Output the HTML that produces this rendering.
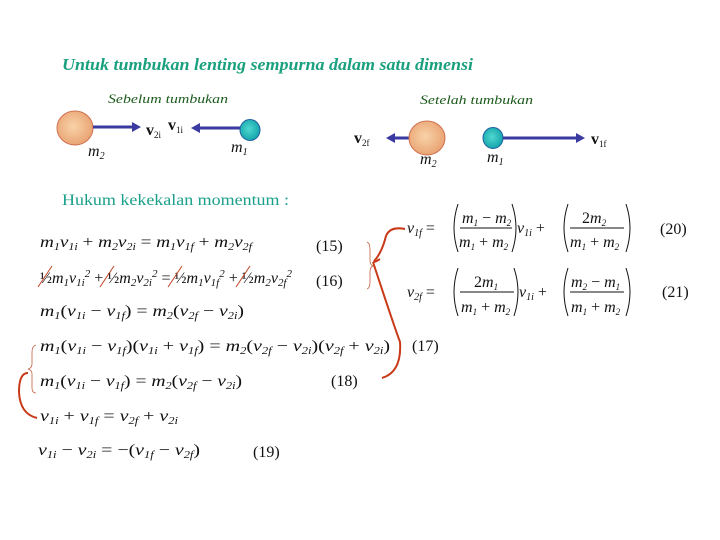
<!DOCTYPE html>
<html><head><meta charset="utf-8"><style>
html,body{margin:0;padding:0;background:#fff;width:720px;height:540px;overflow:hidden}
svg{display:block}
.eq{font-family:"Liberation Serif",serif;font-style:italic;font-size:16px;fill:#111}
.n{font-family:"Liberation Serif",serif;font-size:16px;fill:#111}
</style></head><body>
<svg width="720" height="540" viewBox="0 0 720 540" xmlns="http://www.w3.org/2000/svg">
<defs>
<radialGradient id="g1" cx="0.45" cy="0.45" r="0.6"><stop offset="0" stop-color="#f8d3a8"/><stop offset="1" stop-color="#e8a070"/></radialGradient>
<radialGradient id="g2" cx="0.45" cy="0.45" r="0.6"><stop offset="0" stop-color="#4fd8d0"/><stop offset="1" stop-color="#10a0a8"/></radialGradient>
</defs>
<text x="62" y="70" style="font-family:'Liberation Serif',serif;font-style:italic;font-weight:bold;font-size:17px;fill:#1aa07e" textLength="411" lengthAdjust="spacingAndGlyphs">Untuk tumbukan lenting sempurna dalam satu dimensi</text>
<text x="108" y="103" font-family="Liberation Serif,serif" font-style="italic" font-size="13" fill="#1c5a1c" textLength="120" lengthAdjust="spacingAndGlyphs">Sebelum tumbukan</text>
<text x="420" y="104" font-family="Liberation Serif,serif" font-style="italic" font-size="13" fill="#1c5a1c" textLength="113" lengthAdjust="spacingAndGlyphs">Setelah tumbukan</text>

<ellipse cx="75" cy="128" rx="18" ry="17" fill="url(#g1)" stroke="#d07050"/>
<line x1="93" y1="127" x2="134" y2="127" stroke="#3a3aa0" stroke-width="3"/>
<polygon points="132,122 141,127 132,132" fill="#3a3aa0"/>
<text x="146" y="135" class="n" font-size="13" font-weight="bold">v<tspan font-size="9" dy="3" font-weight="normal">2i</tspan></text>
<text x="168" y="130" class="n" font-size="13" font-weight="bold">v<tspan font-size="9" dy="3" font-weight="normal">1i</tspan></text>
<line x1="240" y1="128" x2="198" y2="128" stroke="#3a3aa0" stroke-width="3"/>
<polygon points="200,123 191,128 200,133" fill="#3a3aa0"/>
<ellipse cx="250" cy="130" rx="10" ry="10.5" fill="url(#g2)" stroke="#2060a0"/>
<text x="88" y="156" class="eq" font-size="14">m<tspan font-size="10" dy="3">2</tspan></text>
<text x="231" y="152" class="eq" font-size="14">m<tspan font-size="10" dy="3">1</tspan></text>

<text x="354" y="143" class="n" font-size="13" font-weight="bold">v<tspan font-size="9" dy="3" font-weight="normal">2f</tspan></text>
<line x1="409" y1="138" x2="393" y2="138" stroke="#3a3aa0" stroke-width="3"/>
<polygon points="395,133 386,138 395,143" fill="#3a3aa0"/>
<ellipse cx="427" cy="138" rx="18" ry="17" fill="url(#g1)" stroke="#d07050"/>
<ellipse cx="493" cy="138" rx="10" ry="10.5" fill="url(#g2)" stroke="#2060a0"/>
<line x1="503" y1="138" x2="578" y2="138" stroke="#3a3aa0" stroke-width="3"/>
<polygon points="576,133 585,138 576,143" fill="#3a3aa0"/>
<text x="591" y="144" class="n" font-size="13" font-weight="bold">v<tspan font-size="9" dy="3" font-weight="normal">1f</tspan></text>
<text x="420" y="164" class="eq" font-size="14">m<tspan font-size="10" dy="3">2</tspan></text>
<text x="487" y="162" class="eq" font-size="14">m<tspan font-size="10" dy="3">1</tspan></text>

<text x="62" y="205" font-family="Liberation Serif,serif" font-size="16" fill="#1aa08a" textLength="227" lengthAdjust="spacingAndGlyphs">Hukum kekekalan momentum :</text>

<text x="40" y="247" class="eq" textLength="212" lengthAdjust="spacingAndGlyphs">m<tspan font-size="10" dy="3">1</tspan><tspan dy="-3">v</tspan><tspan font-size="10" dy="3">1i</tspan><tspan dy="-3" font-style="normal"> + </tspan>m<tspan font-size="10" dy="3">2</tspan><tspan dy="-3">v</tspan><tspan font-size="10" dy="3">2i</tspan><tspan dy="-3" font-style="normal"> = </tspan>m<tspan font-size="10" dy="3">1</tspan><tspan dy="-3">v</tspan><tspan font-size="10" dy="3">1f</tspan><tspan dy="-3" font-style="normal"> + </tspan>m<tspan font-size="10" dy="3">2</tspan><tspan dy="-3">v</tspan><tspan font-size="10" dy="3">2f</tspan></text>
<text x="40" y="283" class="eq" font-size="18" textLength="252" lengthAdjust="spacingAndGlyphs"><tspan font-style="normal">½</tspan>m<tspan font-size="11" dy="3">1</tspan><tspan dy="-3">v</tspan><tspan font-size="11" dy="3">1i</tspan><tspan dy="-9" font-size="11">2</tspan><tspan dy="6" font-style="normal"> + ½</tspan>m<tspan font-size="11" dy="3">2</tspan><tspan dy="-3">v</tspan><tspan font-size="11" dy="3">2i</tspan><tspan font-size="11" dy="-9">2</tspan><tspan font-style="normal" dy="6"> = ½</tspan>m<tspan font-size="11" dy="3">1</tspan><tspan dy="-3">v</tspan><tspan font-size="11" dy="3">1f</tspan><tspan font-size="11" dy="-9">2</tspan><tspan font-style="normal" dy="6"> + ½</tspan>m<tspan font-size="11" dy="3">2</tspan><tspan dy="-3">v</tspan><tspan font-size="11" dy="3">2f</tspan><tspan font-size="11" dy="-9">2</tspan></text>
<g stroke="#c04020" stroke-width="1"><line x1="38" y1="287" x2="52" y2="266"/><line x1="100" y1="287" x2="114" y2="266"/><line x1="168" y1="287" x2="182" y2="266"/><line x1="236" y1="287" x2="250" y2="266"/></g>
<text x="40" y="316" class="eq" textLength="204" lengthAdjust="spacingAndGlyphs">m<tspan font-size="10" dy="3">1</tspan><tspan dy="-3" font-style="normal">(</tspan>v<tspan font-size="10" dy="3">1i</tspan><tspan font-style="normal" dy="-3"> − </tspan>v<tspan font-size="10" dy="3">1f</tspan><tspan font-style="normal" dy="-3">) = </tspan>m<tspan font-size="10" dy="3">2</tspan><tspan dy="-3" font-style="normal">(</tspan>v<tspan font-size="10" dy="3">2f</tspan><tspan font-style="normal" dy="-3"> − </tspan>v<tspan font-size="10" dy="3">2i</tspan><tspan font-style="normal" dy="-3">)</tspan></text>
<text x="40" y="351" class="eq" textLength="350" lengthAdjust="spacingAndGlyphs">m<tspan font-size="10" dy="3">1</tspan><tspan dy="-3" font-style="normal">(</tspan>v<tspan font-size="10" dy="3">1i</tspan><tspan font-style="normal" dy="-3"> − </tspan>v<tspan font-size="10" dy="3">1f</tspan><tspan font-style="normal" dy="-3">)(</tspan>v<tspan font-size="10" dy="3">1i</tspan><tspan font-style="normal" dy="-3"> + </tspan>v<tspan font-size="10" dy="3">1f</tspan><tspan font-style="normal" dy="-3">) = </tspan>m<tspan font-size="10" dy="3">2</tspan><tspan dy="-3" font-style="normal">(</tspan>v<tspan font-size="10" dy="3">2f</tspan><tspan font-style="normal" dy="-3"> − </tspan>v<tspan font-size="10" dy="3">2i</tspan><tspan font-style="normal" dy="-3">)(</tspan>v<tspan font-size="10" dy="3">2f</tspan><tspan font-style="normal" dy="-3"> + </tspan>v<tspan font-size="10" dy="3">2i</tspan><tspan font-style="normal" dy="-3">)</tspan></text>
<text x="40" y="386" class="eq" textLength="202" lengthAdjust="spacingAndGlyphs">m<tspan font-size="10" dy="3">1</tspan><tspan dy="-3" font-style="normal">(</tspan>v<tspan font-size="10" dy="3">1i</tspan><tspan font-style="normal" dy="-3"> − </tspan>v<tspan font-size="10" dy="3">1f</tspan><tspan font-style="normal" dy="-3">) = </tspan>m<tspan font-size="10" dy="3">2</tspan><tspan dy="-3" font-style="normal">(</tspan>v<tspan font-size="10" dy="3">2f</tspan><tspan font-style="normal" dy="-3"> − </tspan>v<tspan font-size="10" dy="3">2i</tspan><tspan font-style="normal" dy="-3">)</tspan></text>
<text x="40" y="421" class="eq" textLength="138" lengthAdjust="spacingAndGlyphs">v<tspan font-size="10" dy="3">1i</tspan><tspan font-style="normal" dy="-3"> + </tspan>v<tspan font-size="10" dy="3">1f</tspan><tspan font-style="normal" dy="-3"> = </tspan>v<tspan font-size="10" dy="3">2f</tspan><tspan font-style="normal" dy="-3"> + </tspan>v<tspan font-size="10" dy="3">2i</tspan></text>
<text x="38" y="455" class="eq" textLength="162" lengthAdjust="spacingAndGlyphs">v<tspan font-size="10" dy="3">1i</tspan><tspan font-style="normal" dy="-3"> − </tspan>v<tspan font-size="10" dy="3">2i</tspan><tspan font-style="normal" dy="-3"> = −(</tspan>v<tspan font-size="10" dy="3">1f</tspan><tspan font-style="normal" dy="-3"> − </tspan>v<tspan font-size="10" dy="3">2f</tspan><tspan font-style="normal" dy="-3">)</tspan></text>

<text x="316" y="251" class="n">(15)</text>
<text x="316" y="286" class="n">(16)</text>
<text x="412" y="351" class="n">(17)</text>
<text x="331" y="386" class="n">(18)</text>
<text x="253" y="457" class="n">(19)</text>
<text x="660" y="234" class="n">(20)</text>
<text x="662" y="297" class="n">(21)</text>

<text x="407" y="233" class="eq">v<tspan font-size="10" dy="3">1f</tspan><tspan font-style="normal" dy="-3"> =</tspan></text>
<path d="M458 204 Q450 228 458 252 M512 204 Q520 228 512 252" stroke="#111" fill="none"/>
<text x="462" y="223" class="eq" font-size="14">m<tspan font-size="9" dy="3">1</tspan><tspan dy="-3" font-style="normal"> − </tspan>m<tspan font-size="9" dy="3">2</tspan></text>
<line x1="460" y1="228" x2="512" y2="228" stroke="#111"/>
<text x="459" y="247" class="eq" font-size="14">m<tspan font-size="9" dy="3">1</tspan><tspan dy="-3" font-style="normal"> + </tspan>m<tspan font-size="9" dy="3">2</tspan></text>
<text x="517" y="233" class="eq">v<tspan font-size="10" dy="3">1i</tspan><tspan font-style="normal" dy="-3"> +</tspan></text>
<path d="M568 204 Q560 228 568 252 M626 204 Q634 228 626 252" stroke="#111" fill="none"/>
<text x="582" y="223" class="eq" font-size="14"><tspan font-style="normal">2</tspan>m<tspan font-size="9" dy="3">2</tspan></text>
<line x1="570" y1="228" x2="624" y2="228" stroke="#111"/>
<text x="570" y="247" class="eq" font-size="14">m<tspan font-size="9" dy="3">1</tspan><tspan dy="-3" font-style="normal"> + </tspan>m<tspan font-size="9" dy="3">2</tspan></text>

<text x="407" y="297" class="eq">v<tspan font-size="10" dy="3">2f</tspan><tspan font-style="normal" dy="-3"> =</tspan></text>
<path d="M458 268 Q450 292 458 316 M514 268 Q522 292 514 316" stroke="#111" fill="none"/>
<text x="474" y="287" class="eq" font-size="14"><tspan font-style="normal">2</tspan>m<tspan font-size="9" dy="3">1</tspan></text>
<line x1="460" y1="292" x2="514" y2="292" stroke="#111"/>
<text x="461" y="312" class="eq" font-size="14">m<tspan font-size="9" dy="3">1</tspan><tspan dy="-3" font-style="normal"> + </tspan>m<tspan font-size="9" dy="3">2</tspan></text>
<text x="519" y="297" class="eq">v<tspan font-size="10" dy="3">1i</tspan><tspan font-style="normal" dy="-3"> +</tspan></text>
<path d="M568 268 Q560 292 568 316 M626 268 Q634 292 626 316" stroke="#111" fill="none"/>
<text x="571" y="287" class="eq" font-size="14">m<tspan font-size="9" dy="3">2</tspan><tspan dy="-3" font-style="normal"> − </tspan>m<tspan font-size="9" dy="3">1</tspan></text>
<line x1="570" y1="292" x2="624" y2="292" stroke="#111"/>
<text x="571" y="312" class="eq" font-size="14">m<tspan font-size="9" dy="3">1</tspan><tspan dy="-3" font-style="normal"> + </tspan>m<tspan font-size="9" dy="3">2</tspan></text>

<path d="M367 242 Q370 243 370 250 L370 260 Q370 265 373 266 Q370 267 370 272 L370 282 Q370 288 367 289" stroke="#c06040" fill="none" stroke-width="0.8"/>
<path d="M405 229 Q390 226 386 236 Q382 252 375 260 Q372 264 380 259 M373 262 Q392 320 400 342 Q402 372 382 378" stroke="#c83a18" fill="none" stroke-width="2"/>
<path d="M36 345 Q32 346 32 352 L32 364 Q32 368 28 369 Q32 370 32 374 L32 388 Q32 393 36 393" stroke="#c06040" fill="none" stroke-width="0.8"/>
<path d="M28 373 Q19 373 19 392 Q20 414 37 418" stroke="#c83a18" fill="none" stroke-width="2"/>
</svg>
</body></html>
